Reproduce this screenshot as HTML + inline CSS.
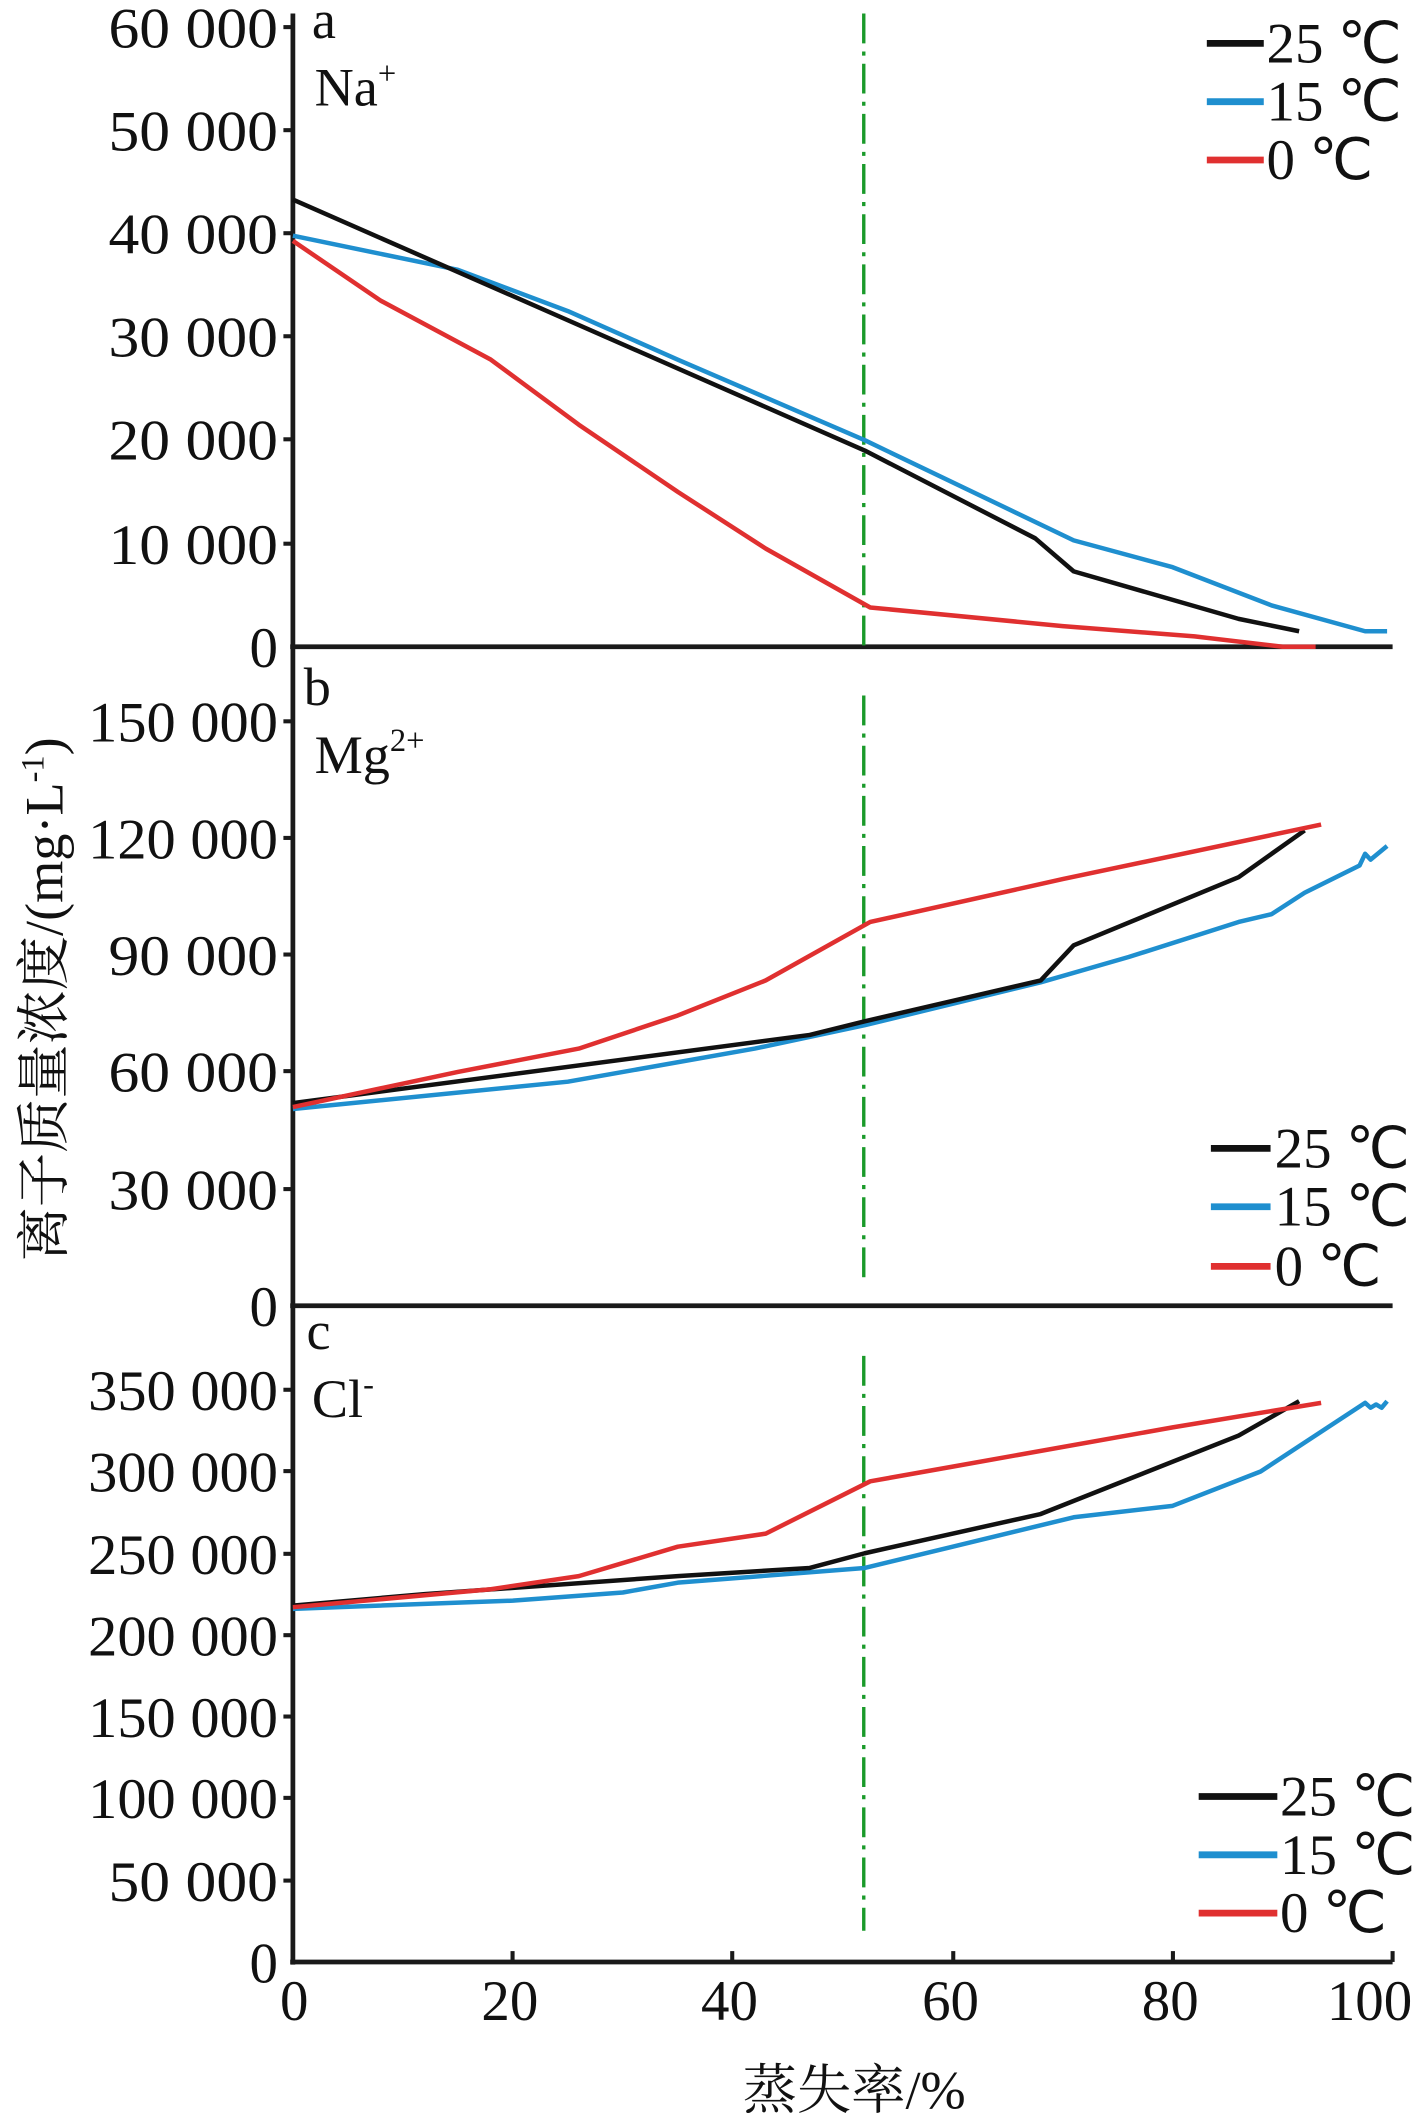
<!DOCTYPE html>
<html><head><meta charset="utf-8"><style>html,body{margin:0;padding:0;background:#fff}svg{display:block}</style></head>
<body>
<svg width="1417" height="2126" viewBox="0 0 1045 1568" preserveAspectRatio="none" xmlns="http://www.w3.org/2000/svg" font-family="Liberation Serif, serif">
<g stroke="#1a1a1a" stroke-width="3.5" fill="none">
<line x1="216" y1="10" x2="216" y2="1449"/>
<line x1="214" y1="477" x2="1027" y2="477"/>
<line x1="214" y1="963" x2="1027" y2="963"/>
<line x1="214" y1="1447" x2="1027" y2="1447"/>
</g>
<g stroke="#1a1a1a" stroke-width="3">
<line x1="209" y1="20" x2="216" y2="20"/><line x1="209" y1="96" x2="216" y2="96"/><line x1="209" y1="172" x2="216" y2="172"/><line x1="209" y1="248" x2="216" y2="248"/><line x1="209" y1="324" x2="216" y2="324"/><line x1="209" y1="401" x2="216" y2="401"/>
<line x1="209" y1="532" x2="216" y2="532"/><line x1="209" y1="618" x2="216" y2="618"/><line x1="209" y1="704" x2="216" y2="704"/><line x1="209" y1="790" x2="216" y2="790"/><line x1="209" y1="877" x2="216" y2="877"/>
<line x1="209" y1="1025" x2="216" y2="1025"/><line x1="209" y1="1085" x2="216" y2="1085"/><line x1="209" y1="1146" x2="216" y2="1146"/><line x1="209" y1="1206" x2="216" y2="1206"/><line x1="209" y1="1266" x2="216" y2="1266"/><line x1="209" y1="1326" x2="216" y2="1326"/><line x1="209" y1="1387" x2="216" y2="1387"/>
<line x1="378" y1="1439" x2="378" y2="1447"/><line x1="540" y1="1439" x2="540" y2="1447"/><line x1="703" y1="1439" x2="703" y2="1447"/><line x1="865" y1="1439" x2="865" y2="1447"/><line x1="1027" y1="1439" x2="1027" y2="1447"/>
</g>
<g font-size="42" text-anchor="end" fill="#111">
<text x="205" y="35" textLength="125" lengthAdjust="spacingAndGlyphs">60 000</text>
<text x="205" y="111" textLength="125" lengthAdjust="spacingAndGlyphs">50 000</text>
<text x="205" y="187" textLength="125" lengthAdjust="spacingAndGlyphs">40 000</text>
<text x="205" y="263" textLength="125" lengthAdjust="spacingAndGlyphs">30 000</text>
<text x="205" y="339" textLength="125" lengthAdjust="spacingAndGlyphs">20 000</text>
<text x="205" y="416" textLength="125" lengthAdjust="spacingAndGlyphs">10 000</text>
<text x="205" y="492">0</text>
<text x="205" y="547" textLength="140" lengthAdjust="spacingAndGlyphs">150 000</text>
<text x="205" y="633" textLength="140" lengthAdjust="spacingAndGlyphs">120 000</text>
<text x="205" y="719" textLength="125" lengthAdjust="spacingAndGlyphs">90 000</text>
<text x="205" y="805" textLength="125" lengthAdjust="spacingAndGlyphs">60 000</text>
<text x="205" y="892" textLength="125" lengthAdjust="spacingAndGlyphs">30 000</text>
<text x="205" y="978">0</text>
<text x="205" y="1040" textLength="140" lengthAdjust="spacingAndGlyphs">350 000</text>
<text x="205" y="1100" textLength="140" lengthAdjust="spacingAndGlyphs">300 000</text>
<text x="205" y="1161" textLength="140" lengthAdjust="spacingAndGlyphs">250 000</text>
<text x="205" y="1221" textLength="140" lengthAdjust="spacingAndGlyphs">200 000</text>
<text x="205" y="1281" textLength="140" lengthAdjust="spacingAndGlyphs">150 000</text>
<text x="205" y="1341" textLength="140" lengthAdjust="spacingAndGlyphs">100 000</text>
<text x="205" y="1402" textLength="125" lengthAdjust="spacingAndGlyphs">50 000</text>
<text x="205" y="1462">0</text>
</g>
<g font-size="42" text-anchor="middle" fill="#111">
<text x="217" y="1490">0</text><text x="376" y="1490">20</text><text x="538" y="1490">40</text><text x="701" y="1490">60</text><text x="863" y="1490">80</text><text x="1010" y="1490">100</text>
<text x="630" y="1555" font-family="Liberation Serif, Noto Serif CJK SC, serif" font-size="40">蒸失率/%</text>
</g>
<text transform="translate(46,737) rotate(-90)" text-anchor="middle" font-size="40" font-family="Liberation Serif, Noto Serif CJK SC, serif" fill="#111">离子质量浓度/(mg·L<tspan dy="-14" font-size="24">-1</tspan><tspan dy="14">)</tspan></text>
<g font-size="40" fill="#111">
<text x="230" y="28">a</text><text x="232" y="78">Na<tspan dy="-16" font-size="24">+</tspan></text>
<text x="224" y="520">b</text><text x="232" y="570">Mg<tspan dy="-16" font-size="24">2+</tspan></text>
<text x="226" y="995">c</text><text x="230" y="1045">Cl<tspan dy="-16" font-size="24">-</tspan></text>
</g>
<g stroke="#1a9a2a" stroke-width="2.5" stroke-dasharray="22,6,3,6">
<line x1="637" y1="10" x2="637" y2="477"/>
<line x1="637" y1="513" x2="637" y2="942"/>
<line x1="637" y1="1000" x2="637" y2="1424"/>
</g>
<g fill="none" stroke-width="4.5" stroke-linejoin="round">
<g transform="matrix(8.11 0 0 -7.6167 216 477)">
<polyline vector-effect="non-scaling-stroke" stroke="#1f8fcf" points="0,39.8 15,36.5 25,32.5 35,27.8 52,20 71,10.3 80,7.7 89,4 97.5,1.5 99.5,1.5"/>
<polyline vector-effect="non-scaling-stroke" stroke="#111" points="0,43.3 52,19 67.5,10.5 71,7.3 86,2.7 91.5,1.5"/>
<polyline vector-effect="non-scaling-stroke" stroke="#e03030" points="0,39.3 8,33.5 18,27.8 26,21.5 35,15 43,9.5 52.5,3.8 70,2 82,1 90,0 93,0"/>
</g>
<g transform="matrix(8.11 0 0 -2.8733 216 963)">
<polyline vector-effect="non-scaling-stroke" stroke="#1f8fcf" points="0,50.5 25,57.5 42,66 52,72 68,83 76,89.5 86,98.5 89,100.5 92,106 97,113 97.5,116 98,114.5 99.5,118"/>
<polyline vector-effect="non-scaling-stroke" stroke="#111" points="0,52 47,69.5 52,73 68,83.5 71,92.5 86,110 92,122"/>
<polyline vector-effect="non-scaling-stroke" stroke="#e03030" points="0,51 15,60 26,66 35,74.5 43,83.5 52.5,98.5 70,109.5 93.5,123.5"/>
</g>
<g transform="matrix(8.11 0 0 -1.2057 216 1447)">
<polyline vector-effect="non-scaling-stroke" stroke="#1f8fcf" points="0,216 20,221 30,226 35,232 52,241 60,254 71,272 80,279 88,300 97.5,342 98,339 98.5,341 99,339 99.5,343"/>
<polyline vector-effect="non-scaling-stroke" stroke="#111" points="0,218 12,225 35,236 47,241 52,250 68,274 86,322 91.5,343"/>
<polyline vector-effect="non-scaling-stroke" stroke="#e03030" points="0,217 18,228 26,236 35,254 43,262 52.5,294 60,303 80,327 93.5,342"/>
</g>
</g>
<g stroke-width="5">
<line x1="890" y1="32" x2="932" y2="32" stroke="#111"/><line x1="890" y1="75" x2="932" y2="75" stroke="#1f8fcf"/><line x1="890" y1="118" x2="932" y2="118" stroke="#e03030"/>
<line x1="893" y1="847" x2="937" y2="847" stroke="#111"/><line x1="893" y1="890" x2="937" y2="890" stroke="#1f8fcf"/><line x1="893" y1="934" x2="937" y2="934" stroke="#e03030"/>
<line x1="884" y1="1325" x2="942" y2="1325" stroke="#111"/><line x1="884" y1="1368" x2="942" y2="1368" stroke="#1f8fcf"/><line x1="884" y1="1411" x2="942" y2="1411" stroke="#e03030"/>
</g>
<g font-size="42" fill="#111">
<text x="934" y="46">25 ℃</text><text x="934" y="89">15 ℃</text><text x="934" y="132">0 ℃</text>
<text x="940" y="861">25 ℃</text><text x="940" y="904">15 ℃</text><text x="940" y="948">0 ℃</text>
<text x="944" y="1339">25 ℃</text><text x="944" y="1382">15 ℃</text><text x="944" y="1425">0 ℃</text>
</g>
</svg>
</body></html>
